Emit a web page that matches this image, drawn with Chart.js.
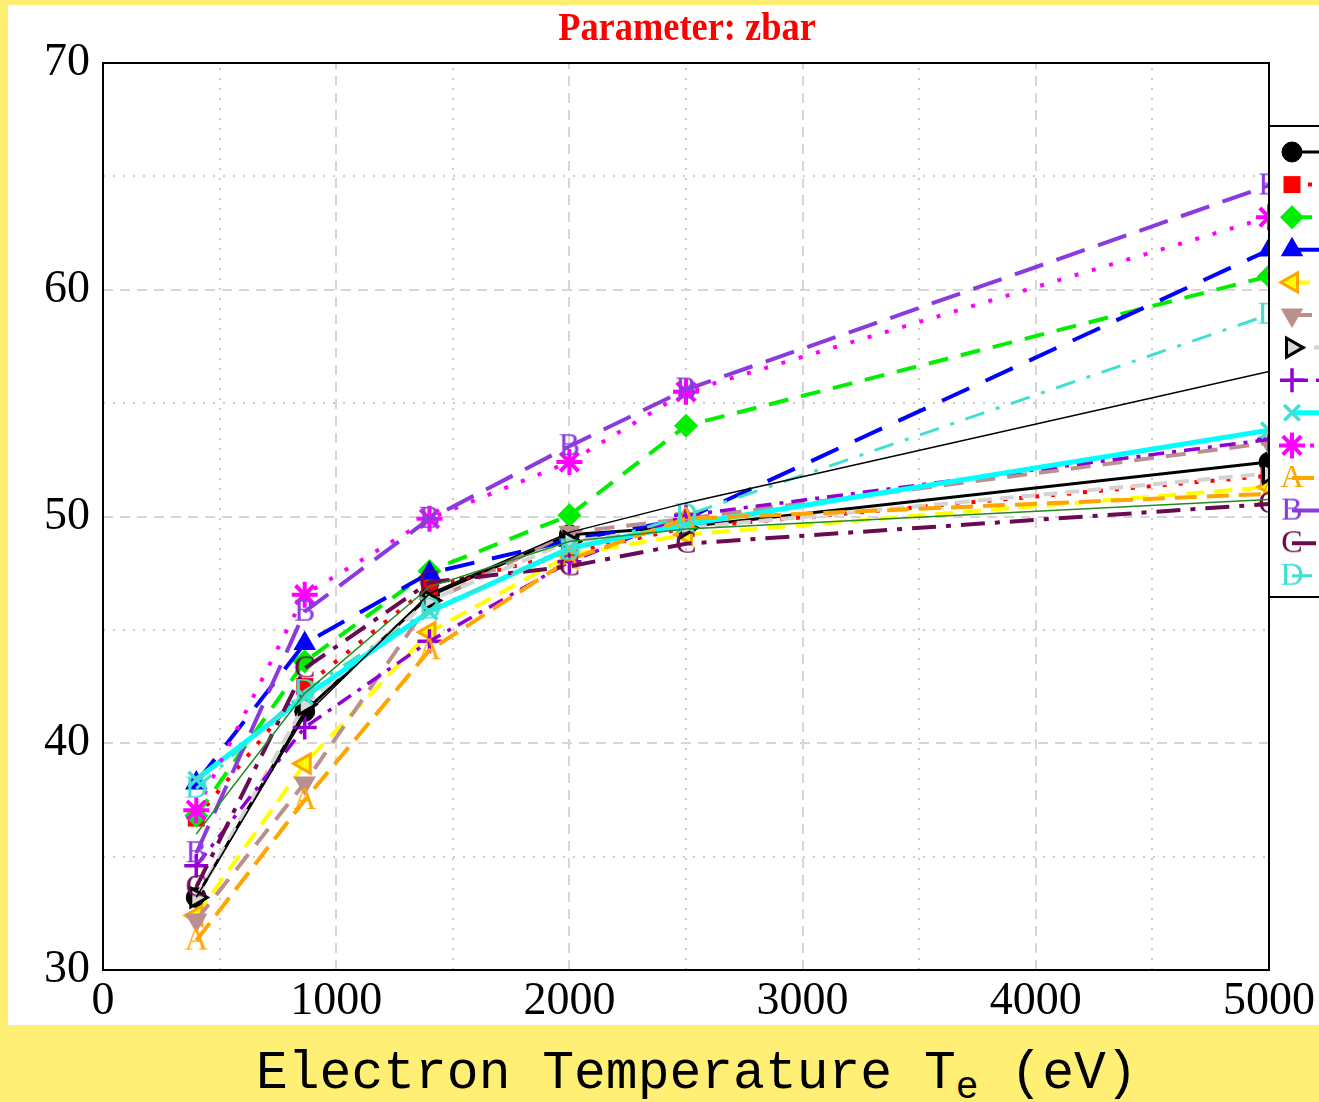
<!DOCTYPE html>
<html><head><meta charset="utf-8">
<script src="https://cdn.jsdelivr.net/npm/chart.js@4.4.1/dist/chart.umd.min.js"></script>
<style>
html,body{margin:0;padding:0;background:#FFEF74;overflow:hidden;width:1319px;height:1102px;}
#panel{position:absolute;left:8px;top:5px;width:1311px;height:1020px;background:#fff;overflow:hidden;}
#c{position:absolute;left:0;top:0;}
#title{position:absolute;left:0;width:1358px;top:0px;line-height:44px;text-align:center;font-weight:bold;font-size:40px;font-family:'Liberation Serif',serif;color:#f00;transform:scaleX(0.91);transform-origin:679px 0;}
#xlabel{position:absolute;left:256px;top:1048px;line-height:53px;font-size:53px;font-family:'Liberation Mono',monospace;color:#000;white-space:pre;}
#xlabel span{font-size:38px;position:relative;top:10px;}
</style></head>
<body>
<div id="panel"><canvas id="c" width="1311" height="1020"></canvas><div id="title">Parameter: zbar</div></div>
<div id="xlabel">Electron Temperature T<span>e</span> (eV)</div>
<script>
// ---- data ----
const temperatures = [400, 865, 1400, 2000, 2500, 5000];
const xTicks = [0, 1000, 2000, 3000, 4000, 5000];
const yTicks = [30, 40, 50, 60, 70];
const sCircle   = [33.2, 41.4, 46.5, 49.2, 49.55, 52.4];
const sSquare   = [36.7, 42.5, 46.9, 48.4, 49.5, 51.8];
const sDiamond  = [36.8, 43.6, 47.6, 50.05, 54.0, 60.6];
const sTriUp    = [38.25, 44.4, 47.5, 48.95, 49.9, 61.75];
const sTriLeft  = [32.4, 39.1, 44.9, 48.3, 49.2, 51.3];
const sTriDown  = [32.2, 38.25, 46.2, 49.3, 49.9, 53.25];
const sTriRight = [33.2, 41.7, 46.3, 48.9, 49.5, 51.9];
const sPlus     = [34.6, 40.7, 44.5, 48.0, 50.05, 53.4];
const sCross    = [38.4, 42.05, 45.8, 48.6, 49.65, 53.8];
const sStar     = [37.05, 46.55, 49.9, 52.4, 55.5, 63.2];
const sA        = [31.3, 37.5, 44.1, 48.1, 49.9, 51.0];
const sB        = [35.15, 45.8, 49.9, 53.1, 55.6, 64.6];
const sC        = [33.65, 43.3, 47.1, 47.8, 48.8, 50.55];
const sD        = [38.0, 42.3, 45.9, 48.5, 50.05, 58.9];
const sThinBlack = [33.2, 41.2, 46.6, 49.3, 50.6, 56.4];
const sThinGreen = [36.0, 42.2, 46.9, 48.9, 49.45, 50.75];

function letterMarker(ch, color){
  const c=document.createElement('canvas'); c.width=36; c.height=36;
  const g=c.getContext('2d'); g.fillStyle=color; g.font='32px "Liberation Serif"';
  g.textAlign='center'; g.textBaseline='middle'; g.fillText(ch,18,19); return c;
}
function ds(label, values, o){
  return Object.assign({label, data: temperatures.map((t,i)=>({x:t,y:values[i]})),
    fill:false, tension:0, clip:0, borderCapStyle:'butt', borderDash:[], pointBorderWidth:0,
    pointRotation:0}, o);
}
const datasets = [
  ds('s1', sCircle, {borderColor:'#000', borderWidth:3, pointStyle:'circle', pointRadius:10, pointBackgroundColor:'#000', pointBorderColor:'#000', pointBorderWidth:1}),
  ds('s2', sSquare, {borderColor:'#f00', borderWidth:4, borderDash:[4,12], pointStyle:'rect', pointRadius:12, pointBackgroundColor:'#f00', pointBorderColor:'#f00'}),
  ds('s3', sDiamond, {borderColor:'#00ee00', borderWidth:4, borderDash:[20,13], pointStyle:'rectRot', pointRadius:12, pointBackgroundColor:'#00ee00', pointBorderColor:'#00ee00'}),
  ds('s4', sTriUp, {borderColor:'#0000ff', borderWidth:4, borderDash:[30,18], pointStyle:'triangle', pointRadius:13, pointBackgroundColor:'#0000ff', pointBorderColor:'#0000ff'}),
  ds('s5', sTriLeft, {borderColor:'#ffff00', borderWidth:4, borderDash:[18,10], pointStyle:'triangle', pointRotation:-90, pointRadius:11, pointBackgroundColor:'#ffff00', pointBorderColor:'#ffa500', pointBorderWidth:3}),
  ds('s6', sTriDown, {borderColor:'#bc8f8f', borderWidth:4, borderDash:[20,12], pointStyle:'triangle', pointRotation:180, pointRadius:13, pointBackgroundColor:'#bc8f8f', pointBorderColor:'#bc8f8f'}),
  ds('s7', sTriRight, {borderColor:'#d3d3d3', borderWidth:4, borderDash:[14,8], pointStyle:'triangle', pointRotation:90, pointRadius:11, pointBackgroundColor:'#d8d8d8', pointBorderColor:'#000', pointBorderWidth:3}),
  ds('s8', sPlus, {borderColor:'#9400d3', borderWidth:3.5, borderDash:[16,8,4,8], pointStyle:'cross', pointRadius:12, pointBackgroundColor:'#9400d3', pointBorderColor:'#9400d3', pointBorderWidth:3.5}),
  ds('s9', sCross, {borderColor:'#00ffff', borderWidth:5, pointStyle:'crossRot', pointRadius:11, pointBackgroundColor:'#40e0d0', pointBorderColor:'#40e0d0', pointBorderWidth:3.5}),
  ds('s10', sStar, {borderColor:'#ff00ff', borderWidth:4, borderDash:[4,14], pointStyle:'star', pointRadius:13, pointBackgroundColor:'#ff00ff', pointBorderColor:'#ff00ff', pointBorderWidth:4}),
  ds('s11', sA, {borderColor:'#ffa500', borderWidth:4, borderDash:[22,10], pointStyle:letterMarker('A','#ffa500'), pointRadius:12}),
  ds('s12', sB, {borderColor:'#8a3be0', borderWidth:4, borderDash:[30,14], pointStyle:letterMarker('B','#8a3be0'), pointRadius:12}),
  ds('s13', sC, {borderColor:'#6a0a50', borderWidth:4, borderDash:[24,10,5,10], pointStyle:letterMarker('C','#6a0a50'), pointRadius:12}),
  ds('s14', sD, {borderColor:'#40e0d0', borderWidth:3, borderDash:[20,12,4,12], pointStyle:letterMarker('D','#40e0d0'), pointRadius:12}),
  ds('thinBlack', sThinBlack, {borderColor:'#000', borderWidth:1.5, pointRadius:0, noLegend:true}),
  ds('thinGreen', sThinGreen, {borderColor:'#228b22', borderWidth:1.5, pointRadius:0, noLegend:true})
];
datasets.forEach((d,i)=>{ d.order = -i; });

const gridPlugin = {
  id:'gpGrid',
  beforeDatasetsDraw(chart){
    const {ctx, chartArea:ca, scales:{x,y}} = chart;
    ctx.save(); ctx.lineWidth=2;
    for(let v=500; v<5000; v+=500){
      const major = v%1000===0; const px = Math.round(x.getPixelForValue(v));
      ctx.setLineDash(major?[10,7]:[2,8]); ctx.strokeStyle = major?'#d6d6d6':'#cccccc';
      ctx.beginPath(); ctx.moveTo(px, ca.bottom); ctx.lineTo(px, ca.top); ctx.stroke();
    }
    for(let v=35; v<70; v+=5){
      const major = v%10===0; const py = Math.round(y.getPixelForValue(v));
      ctx.setLineDash(major?[10,7]:[2,8]); ctx.strokeStyle = major?'#d6d6d6':'#cccccc';
      ctx.beginPath(); ctx.moveTo(ca.left, py); ctx.lineTo(ca.right, py); ctx.stroke();
    }
    ctx.restore();
  },
  afterDatasetsDraw(chart){
    const {ctx, chartArea:ca} = chart;
    ctx.save(); ctx.setLineDash([]); ctx.strokeStyle='#000'; ctx.lineWidth=2;
    ctx.strokeRect(ca.left, ca.top, ca.right-ca.left, ca.bottom-ca.top);
    ctx.restore();
  }
};
const legendPlugin = {
  id:'gpLegend',
  afterDraw(chart){
    const ctx = chart.ctx; const ca = chart.chartArea;
    const left = ca.right, top = 121, bottom = 592;
    ctx.save();
    ctx.fillStyle='#fff'; ctx.fillRect(left, top, 200, bottom-top);
    ctx.strokeStyle='#000'; ctx.lineWidth=2; ctx.setLineDash([]); ctx.strokeRect(left, top, 200, bottom-top);
    let k=0;
    chart.data.datasets.forEach(d=>{
      if(d.noLegend) return;
      const yy = 147 + k*32.6; k++;
      ctx.save();
      ctx.strokeStyle=d.borderColor; ctx.lineWidth=d.borderWidth; ctx.setLineDash(d.borderDash||[]); ctx.lineCap='butt';
      ctx.beginPath(); ctx.moveTo(left+23, yy); ctx.lineTo(left+120, yy); ctx.stroke();
      ctx.setLineDash([]);
      ctx.fillStyle=d.pointBackgroundColor||d.borderColor; ctx.strokeStyle=d.pointBorderColor||d.borderColor; ctx.lineWidth=d.pointBorderWidth||0;
      Chart.helpers.drawPoint(ctx, {pointStyle:d.pointStyle, radius:d.pointRadius, rotation:d.pointRotation||0, borderWidth:d.pointBorderWidth||0}, left+23, yy);
      ctx.restore();
    });
    ctx.restore();
  }
};

const tickFont = {family:'Liberation Serif', size:46};
new Chart(document.getElementById('c'), {
  type:'line',
  data:{datasets},
  options:{
    responsive:false, animation:false, devicePixelRatio:1,
    layout:{padding:{top:58, right:49, bottom:0, left:0}},
    plugins:{legend:{display:false}, tooltip:{enabled:false}, title:{display:false}},
    scales:{
      x:{type:'linear', min:0, max:5000,
        afterBuildTicks(s){ s.ticks = xTicks.map(v=>({value:v})); },
        ticks:{font:tickFont, color:'#000', padding:4, maxRotation:0, autoSkip:false, callback:v=>String(v)},
        grid:{display:false, drawTicks:false}, border:{display:false},
        afterFit(s){ s.height = 55; }},
      y:{type:'linear', min:30, max:70,
        afterBuildTicks(s){ s.ticks = yTicks.map(v=>({value:v})); },
        ticks:{font:tickFont, color:'#000', padding:13, autoSkip:false, callback:v=>String(v)},
        grid:{display:false, drawTicks:false}, border:{display:false},
        afterFit(s){ s.width = 95; }}
    }
  },
  plugins:[gridPlugin, legendPlugin]
});
</script>
</body></html>
